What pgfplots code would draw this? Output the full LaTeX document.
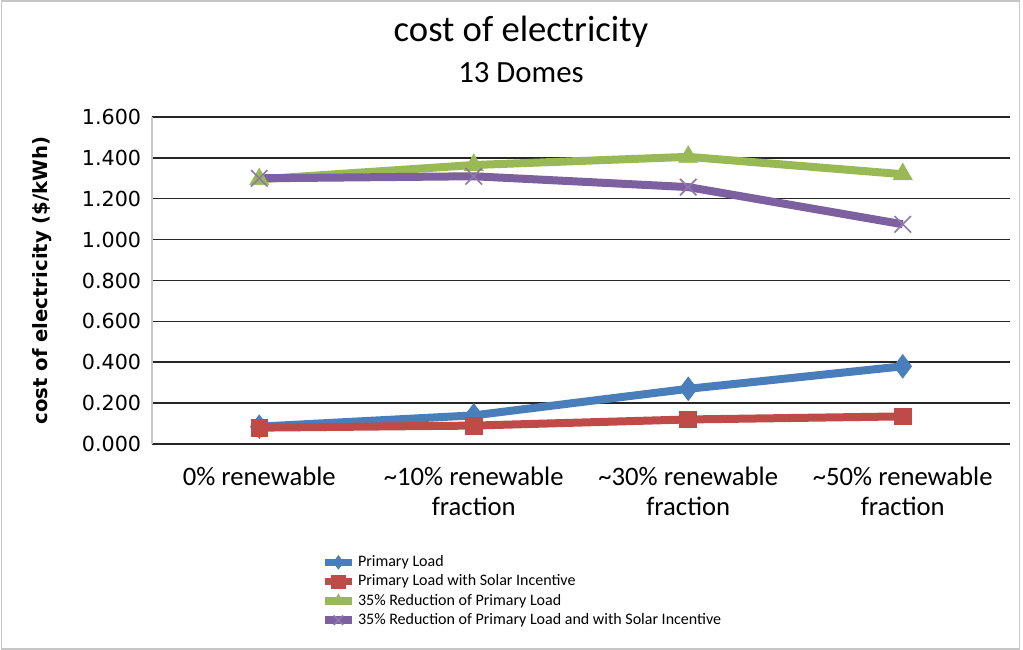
\documentclass[border=0pt]{standalone}
\usepackage{fontspec}
\setmainfont{Carlito}
\newfontfamily\dejavu{DejaVu Sans}
\usepackage{pgfplots}
\pgfplotsset{compat=1.18}
\definecolor{cblue}{HTML}{4A7EBB}
\definecolor{cred}{HTML}{BE4B48}
\definecolor{cgreen}{HTML}{98B954}
\definecolor{cpurple}{HTML}{7D60A0}
\begin{document}
\begin{tikzpicture}
\path[use as bounding box] (0,0) rectangle (613.8pt,390pt);
\draw[gray!45, line width=0.8pt] (1pt,0.6pt) rectangle (611.5pt,389.4pt);
\node[font=\fontsize{22}{26}\selectfont] at (312.6pt,370.8pt) {cost of electricity};
\node[font=\fontsize{18.5}{22}\selectfont] at (312.6pt,346.2pt) {13 Domes};
\begin{axis}[
  at={(91.2pt,123.6pt)}, anchor=south west,
  scale only axis, width=514.8pt, height=196.2pt,
  xmin=-0.5, xmax=3.5, ymin=0, ymax=1.6,
  xtick={0,1,2,3},
  xticklabels={0\% renewable, {\textasciitilde10\% renewable\\fraction}, {\textasciitilde30\% renewable\\fraction}, {\textasciitilde50\% renewable\\fraction}},
  xticklabel style={font=\fontsize{16}{18}\selectfont, align=center, anchor=north, yshift=-10pt},
  ytick={0,0.2,...,1.6},
  yticklabel style={font=\dejavu\fontsize{12.4}{14}\selectfont, /pgf/number format/fixed, /pgf/number format/precision=3, /pgf/number format/fixed zerofill, xshift=-3pt},
  /pgf/number format/assume math mode=true,
  major tick length=0pt,
  ymajorgrids, grid style={black!85, line width=0.9pt},
  axis x line*=bottom, axis y line*=left,
  x axis line style={draw=none},
  y axis line style={draw=gray!45, line width=0.8pt},
  ylabel={\bfseries cost of electricity (\$/kWh)},
  ylabel style={font=\dejavu\fontsize{11.8}{14}\selectfont, at={(axis description cs:-0.128,0.5)}, anchor=center},
  legend style={draw=none, fill=none, font=\fontsize{9.6}{11}\selectfont, at={(axis description cs:0.197,-0.33)}, anchor=north west, row sep=-0.6pt, inner sep=0pt, nodes={inner xsep=1.5pt}},
  legend cell align=left,
  legend image code/.code={\draw[#1, line width=4.5pt, mark=none] (0pt,0pt) -- (16pt,0pt); \draw[#1, mark size=4pt] plot coordinates {(8pt,0pt)};},
  every axis plot/.append style={line width=4.8pt},
  clip=false,
]
\addplot[color=cblue, mark=diamond*, mark size=7pt, mark options={line width=0.5pt, fill=cblue}] coordinates {(0,0.085) (1,0.14) (2,0.27) (3,0.38)};
\addlegendentry{Primary Load}
\addplot[color=cred, mark=square*, mark size=5pt, mark options={line width=0.5pt, fill=cred}] coordinates {(0,0.08) (1,0.09) (2,0.12) (3,0.135)};
\addlegendentry{Primary Load with Solar Incentive}
\addplot[color=cgreen, mark=triangle*, mark size=6.5pt, mark options={line width=0.5pt, fill=cgreen}] coordinates {(0,1.295) (1,1.365) (2,1.405) (3,1.32)};
\addlegendentry{35\% Reduction of Primary Load}
\addplot[color=cpurple, mark=x, mark size=7pt, mark options={line width=1pt, color=cpurple!85}] coordinates {(0,1.30) (1,1.31) (2,1.257) (3,1.075)};
\addlegendentry{35\% Reduction of Primary Load and with Solar Incentive}
\end{axis}
\end{tikzpicture}
\end{document}
